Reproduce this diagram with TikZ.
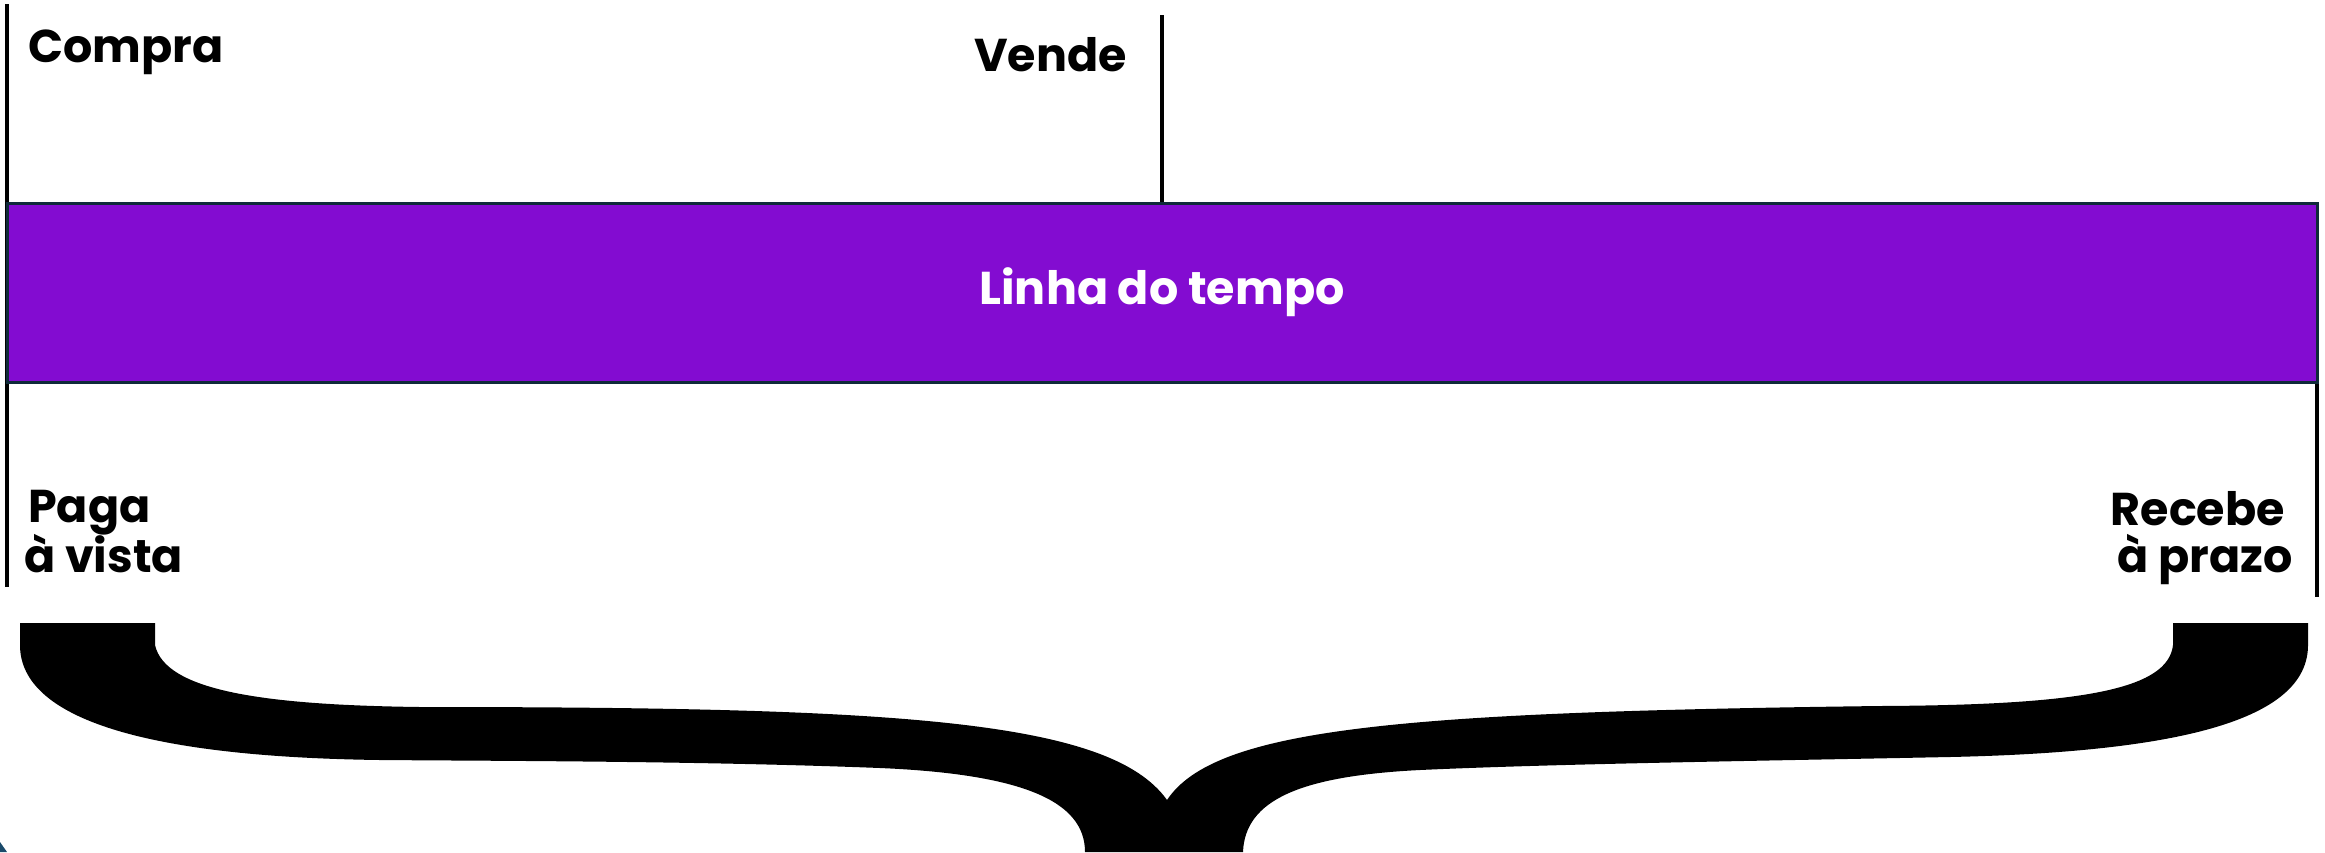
\documentclass[tikz,border=0pt]{standalone}
\usepackage{fontspec}
\setmainfont{Poppins}
\definecolor{roxo}{HTML}{830CD1}
\definecolor{borda}{HTML}{0F2A3A}
\definecolor{canto}{HTML}{1A4A6A}
\begin{document}
\begin{tikzpicture}[x=1pt, y=-1pt,
    marca/.style={line width=4pt, black},
    rotulo/.style={inner sep=0pt, font=\fontsize{46}{49}\selectfont\bfseries},
    barra/.style={draw=borda, line width=3pt, fill=roxo, minimum width=2310pt, minimum height=179pt, inner sep=0pt, text=white, font=\fontsize{46}{49}\selectfont\bfseries},
    chave/.style={fill=black}]

        \useasboundingbox (0,0) rectangle (2325,852);

        % Define the coordinates of the markers
        \coordinate (compraTop) at (7,4);
        \coordinate (compraEnd) at (7,587);
        \coordinate (vendeTop) at (1162,15);
        \coordinate (vendeEnd) at (1162,203);
        \coordinate (recebeTop) at (2317,220);
        \coordinate (recebeEnd) at (2317,597);

        % Draw the markers
        \draw[marca] (compraTop) -- (compraEnd);
        \draw[marca] (vendeTop) -- (vendeEnd);
        \draw[marca] (recebeTop) -- (recebeEnd);

        % Time line
        \node[barra] (linha) at (1162,292.5) {Linha do tempo};

        % Labels
        \node[rotulo, anchor=base west] (compra) at (28,62) {Compra};
        \node[rotulo, anchor=base east] (vende) at (1127,71) {Vende};
        \node[rotulo, anchor=base west, align=left] (paga) at (28,572) {Paga\\[-2pt]\hspace*{-4pt}à vista};
        \node[rotulo, anchor=base east, align=right] (recebe) at (2293,572) {Recebe\hspace*{8pt}\\[-2pt]à prazo};

        % Brace
        \fill[chave] (20,623) -- (155,623) -- (155,645)
            .. controls (165,690) and (260,705) .. (420,707)
            .. controls (900,707) and (1110,720) .. (1167,800)
            .. controls (1215,728) and (1400,712) .. (1880,706)
            .. controls (2080,705) and (2168,690) .. (2173,645) -- (2173,623) -- (2308,623) -- (2308,645)
            .. controls (2308,720) and (2180,752) .. (1950,757)
            .. controls (1750,761) and (1550,764) .. (1420,770)
            .. controls (1300,776) and (1245,800) .. (1243,852) -- (1085,852)
            .. controls (1085,800) and (1020,774) .. (880,768)
            .. controls (700,761) and (500,761) .. (380,760)
            .. controls (150,757) and (20,720) .. (20,645) -- cycle;

        \fill[canto] (0,842) -- (7,852) -- (0,852) -- cycle;

    \end{tikzpicture}
\end{document}
